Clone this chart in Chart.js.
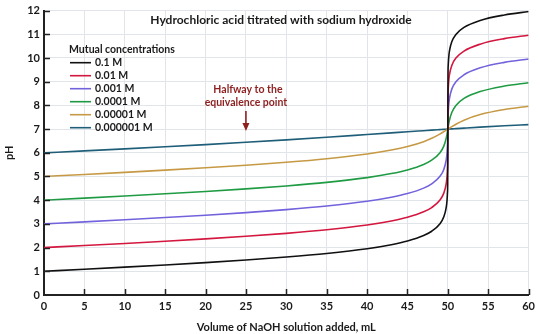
<!DOCTYPE html>
<html>
<head>
<meta charset="utf-8">
<script src="https://cdn.jsdelivr.net/npm/chart.js@4.4.1/dist/chart.umd.min.js"></script>
<style>
  html, body { margin: 0; padding: 0; background: #fff; }
  #wrap { width: 540px; height: 334px; }
</style>
</head>
<body>
<div id="wrap"><canvas id="titration"></canvas></div>
<script>
// volume of NaOH added (mL), denser around the equivalence point
const volumes = [0, 5, 10, 15, 20, 25, 30, 35, 40, 43, 45, 47, 48, 49, 49.5, 49.8, 49.9, 49.95, 49.98,
  50, 50.02, 50.05, 50.1, 50.2, 50.5, 51, 52, 54, 57, 60]

const labels = ["0.1 M", "0.01 M", "0.001 M", "0.0001 M", "0.00001 M", "0.000001 M"]
const colors = ['#111111', '#d3173f', '#7263dc', '#1f9b43', '#c69a45', '#1f5e78']

const ph01 = [1.000, 1.087, 1.176, 1.269, 1.368, 1.477, 1.602, 1.753, 1.954, 2.123, 2.279, 2.510, 2.690, 2.996, 3.299, 3.698, 4.000, 4.301, 4.699,
  7.000, 9.301, 9.699, 10.000, 10.300, 10.697, 10.996, 11.292, 11.585, 11.816, 11.959]
const ph001 = [2.000, 2.087, 2.176, 2.269, 2.368, 2.477, 2.602, 2.753, 2.954, 3.123, 3.279, 3.510, 3.690, 3.996, 4.299, 4.698, 5.000, 5.301, 5.699,
  7.000, 8.301, 8.699, 9.000, 9.300, 9.697, 9.996, 10.292, 10.585, 10.816, 10.959]
const ph0001 = [3.000, 3.087, 3.176, 3.269, 3.368, 3.477, 3.602, 3.753, 3.954, 4.123, 4.279, 4.510, 4.690, 4.996, 5.299, 5.697, 5.996, 6.285, 6.617,
  7.000, 7.383, 7.715, 8.004, 8.301, 8.697, 8.996, 9.292, 9.585, 9.816, 9.959]
const ph00001 = [4.000, 4.087, 4.176, 4.269, 4.368, 4.477, 4.602, 4.753, 4.954, 5.123, 5.278, 5.509, 5.689, 5.991, 6.283, 6.617, 6.790, 6.893, 6.957,
  7.000, 7.043, 7.107, 7.210, 7.382, 7.713, 8.000, 8.294, 8.585, 8.816, 8.959]
const ph000001 = [5.000, 5.087, 5.176, 5.269, 5.368, 5.477, 5.601, 5.752, 5.951, 6.116, 6.264, 6.470, 6.611, 6.789, 6.892, 6.957, 6.978, 6.989, 6.996,
  7.000, 7.004, 7.011, 7.022, 7.043, 7.107, 7.207, 7.377, 7.612, 7.825, 7.964]
const ph0000001 = [5.996, 6.081, 6.167, 6.255, 6.346, 6.443, 6.545, 6.654, 6.770, 6.840, 6.887, 6.933, 6.956, 6.978, 6.989, 6.996, 6.998, 6.999, 7.000,
  7.000, 7.000, 7.001, 7.002, 7.004, 7.011, 7.021, 7.042, 7.083, 7.140, 7.190]

const series = [ph01, ph001, ph0001, ph00001, ph000001, ph0000001]
const halfwayVolume = 25

const FONT = "Lato, 'Open Sans', sans-serif"

function toPoints(values) {
  return values.map((y, i) => ({x: volumes[i], y: y}))
}

// title, legend, halfway arrow and the inward tick marks
const overlay = {
  id: 'overlay',
  afterDraw(chart) {
    const ctx = chart.ctx
    const xs = chart.scales.x
    const ys = chart.scales.y
    const area = chart.chartArea
    ctx.save()

    // inward ticks
    ctx.strokeStyle = '#222'
    ctx.lineWidth = 1.5
    ctx.beginPath()
    for (let v = 5; v <= 60; v += 5) {
      const px = Math.round(xs.getPixelForValue(v)) + 0.5
      ctx.moveTo(px, area.bottom)
      ctx.lineTo(px, area.bottom - 6)
    }
    for (let v = 1; v <= 12; v++) {
      const py = Math.round(ys.getPixelForValue(v)) + 0.5
      ctx.moveTo(area.left, py)
      ctx.lineTo(area.left + 6, py)
    }
    ctx.stroke()

    // title
    ctx.fillStyle = '#1a1a1a'
    ctx.textBaseline = 'middle'
    ctx.textAlign = 'center'
    ctx.font = "bold 12px " + FONT
    ctx.fillText("Hydrochloric acid titrated with sodium hydroxide", 281, 20)

    // legend
    ctx.textAlign = 'left'
    ctx.font = "bold 10.5px " + FONT
    ctx.fillText("Mutual concentrations", 69, 50)
    labels.forEach((label, i) => {
      const y = 62.7 + i * 13
      ctx.strokeStyle = colors[i]
      ctx.lineWidth = 1.6
      ctx.beginPath()
      ctx.moveTo(70, y)
      ctx.lineTo(91, y)
      ctx.stroke()
      ctx.fillStyle = '#1a1a1a'
      ctx.fillText(label, 95, y)
    })

    // halfway annotation
    const ax = xs.getPixelForValue(halfwayVolume)
    ctx.fillStyle = '#8e1f1f'
    ctx.strokeStyle = '#8e1f1f'
    ctx.textAlign = 'center'
    ctx.fillText("Halfway to the", ax + 2, 90)
    ctx.fillText("equivalence point", ax, 102.5)
    ctx.lineWidth = 1.6
    ctx.beginPath()
    ctx.moveTo(ax, 111)
    ctx.lineTo(ax, 125)
    ctx.stroke()
    ctx.beginPath()
    ctx.moveTo(ax - 3.5, 123)
    ctx.lineTo(ax + 3.5, 123)
    ctx.lineTo(ax, 131)
    ctx.closePath()
    ctx.fill()

    ctx.restore()
  }
}

new Chart(document.getElementById('titration'), {
  type: 'line',
  data: {
    datasets: series.map((values, i) => ({
      label: labels[i],
      data: toPoints(values),
      borderColor: colors[i],
      borderWidth: 1.6,
      pointRadius: 0,
      cubicInterpolationMode: 'monotone',
    }))
  },
  options: {
    responsive: true,
    maintainAspectRatio: false,
    animation: false,
    events: [],
    layout: {
      padding: {left: 0, right: 10, top: 6, bottom: 0}
    },
    plugins: {
      legend: {display: false},
      title: {display: false},
      tooltip: {enabled: false},
    },
    scales: {
      x: {
        type: 'linear',
        min: 0,
        max: 60,
        afterFit(scale) { scale.height = 39 },
        ticks: {
          stepSize: 5,
          padding: 5,
          color: '#1a1a1a',
          font: {family: FONT, size: 11, weight: 'bold'},
        },
        grid: {color: '#e1e5ea', lineWidth: 1, drawTicks: false},
        border: {color: '#222', width: 2},
        title: {
          display: true,
          text: 'Volume of NaOH solution added, mL',
          color: '#1a1a1a',
          font: {family: FONT, size: 11, weight: 'bold'},
          padding: {top: 0, bottom: 0},
        },
      },
      y: {
        min: 0,
        max: 12,
        afterFit(scale) { scale.width = 44 },
        ticks: {
          stepSize: 1,
          padding: 4,
          color: '#1a1a1a',
          font: {family: FONT, size: 11, weight: 'bold'},
        },
        grid: {color: '#e1e5ea', lineWidth: 1, drawTicks: false},
        border: {color: '#222', width: 2},
        title: {
          display: true,
          text: 'pH',
          color: '#1a1a1a',
          font: {family: FONT, size: 11, weight: 'bold'},
          padding: {top: 3, bottom: 0},
        },
      },
    },
  },
  plugins: [overlay],
})
</script>
</body>
</html>
